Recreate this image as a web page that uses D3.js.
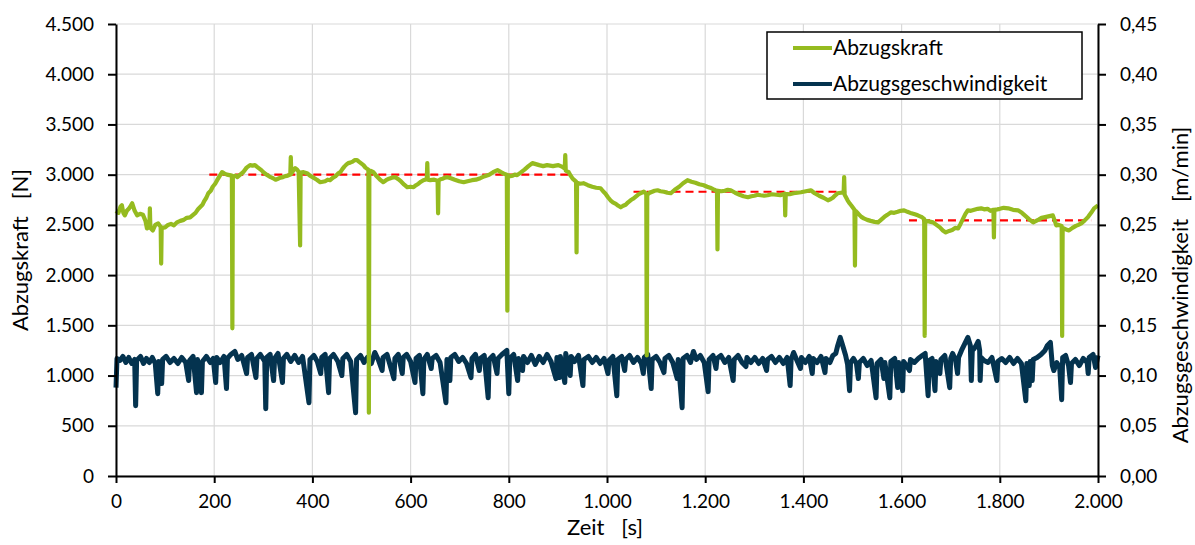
<!DOCTYPE html>
<html>
<head>
<meta charset="utf-8">
<script src="https://cdn.jsdelivr.net/npm/d3@7"></script>
<style>
  body { margin: 0; background: #fff; }
  svg text { font-family: Lato, "Open Sans", sans-serif; fill: #000; white-space: pre; }
</style>
</head>
<body>
<div id="chart"></div>
<script>
// Axis ticks
const timeTicks = [0, 200, 400, 600, 800, 1000, 1200, 1400, 1600, 1800, 2000];
const forceTicks = [0, 500, 1000, 1500, 2000, 2500, 3000, 3500, 4000, 4500];
const speedTicks = [0, 0.05, 0.1, 0.15, 0.2, 0.25, 0.3, 0.35, 0.4, 0.45];

// Series names
const seriesNames = ["Abzugskraft", "Abzugsgeschwindigkeit"];

// Abzugskraft [N] over Zeit [s]
const force = [
  [0,2640],[5,2620],[9,2680],[12,2695],[15,2620],[18,2595],[22,2640],[26,2660],[30,2690],[33,2715],[38,2640],[43,2595],[49,2610],[55,2600],[60,2540],[63,2465],[68,2480],
  [69,2665],[70,2470],[75,2445],[80,2500],[86,2515],[91,2480],[92,2115],[93,2470],[100,2475],[106,2500],[112,2510],[118,2495],
  [124,2525],[131,2540],[138,2550],[144,2570],[151,2575],[157,2600],[162,2620],[167,2655],[171,2675],[176,2700],[180,2740],[184,2770],[188,2815],[193,2840],[197,2880],[202,2910],[206,2945],[211,2985],[216,3025],
  [221,3010],[226,3000],[236,2990],[237,1470],[238,2980],[243,2990],[247,2975],[253,3000],[259,3025],[266,3070],[273,3095],[278,3090],[283,3095],[288,3075],[292,3060],[296,3045],[300,3025],[305,3005],
  [310,2990],[315,2975],[320,2965],[325,2950],[330,2960],[335,2970],[340,2975],[345,2985],[350,2990],[355,3000],[356,3175],[357,3010],[361,3040],[365,3065],[369,3050],[372,3030],
  [375,2295],[376,3020],[382,3025],[389,3015],[395,2990],[402,2970],[409,2950],[416,2925],[421,2930],[426,2935],[431,2950],[436,2945],[442,2970],[447,2985],[452,3010],[457,3025],[461,3055],[465,3080],[469,3100],
  [473,3115],[477,3120],[482,3130],[486,3145],[491,3145],[496,3125],[500,3110],[504,3095],[508,3070],[514,3050],[515,630],[516,3040],[520,3035],[524,3025],[529,2995],[534,2970],[539,2945],
  [544,2925],[550,2945],[556,2960],[562,2970],[569,2975],[575,2955],[581,2930],[587,2900],[593,2875],[600,2880],[606,2875],[611,2895],[616,2910],[621,2930],[626,2945],[633,2955],[634,3115],
  [635,2950],[640,2945],[648,2950],[655,2940],[656,2615],[657,2940],[661,2955],[665,2960],[670,2970],[675,2975],[682,2965],[690,2950],[699,2935],[708,2925],[716,2935],
  [725,2945],[733,2950],[742,2965],[751,2985],[760,3000],[768,3025],[777,3045],[784,3025],[790,3010],[796,3000],[797,1645],[798,2995],[803,2985],[808,2990],[812,3000],[817,2995],
  [824,3020],[832,3050],[840,3085],[848,3115],[855,3105],[862,3095],[870,3085],[878,3095],[884,3090],[890,3085],[895,3090],[901,3095],[908,3080],[914,3060],[915,3195],[916,3040],
  [922,3025],[926,2990],[930,2960],[937,2930],[938,2225],[939,2920],[945,2910],[952,2915],[961,2895],[970,2880],[978,2870],[987,2865],[992,2835],[997,2810],[1002,2775],[1007,2745],
  [1012,2725],[1018,2710],[1023,2690],[1028,2675],[1033,2690],[1038,2700],[1043,2725],[1048,2745],[1053,2760],[1058,2780],[1063,2800],[1068,2815],[1075,2830],[1080,2810],[1081,1200],[1082,2800],
  [1087,2820],[1092,2830],[1097,2840],[1103,2845],[1109,2835],[1116,2830],[1123,2820],[1130,2815],[1138,2850],[1147,2880],[1155,2915],[1164,2945],[1172,2930],[1180,2920],[1188,2905],[1197,2895],[1204,2880],[1210,2870],[1216,2855],[1221,2845],
  [1224,2840],[1225,2255],[1226,2840],[1233,2835],[1240,2840],[1246,2850],[1252,2845],[1261,2820],[1270,2800],[1278,2785],[1287,2775],[1294,2785],[1300,2790],[1307,2800],[1313,2795],[1320,2790],[1327,2795],
  [1336,2805],[1345,2800],[1353,2795],[1362,2810],[1363,2595],[1364,2810],[1372,2805],[1380,2815],[1388,2820],[1395,2825],[1405,2835],[1415,2845],[1423,2815],[1432,2790],[1441,2770],[1450,2745],[1455,2755],[1460,2770],
  [1465,2795],[1470,2815],[1476,2820],[1482,2825],[1483,2975],[1484,2800],[1490,2745],[1494,2715],[1498,2690],[1504,2650],[1505,2095],[1506,2640],[1510,2620],[1514,2600],
  [1518,2580],[1523,2565],[1530,2550],[1537,2540],[1545,2530],[1552,2525],[1558,2550],[1565,2580],[1571,2600],[1578,2625],[1585,2620],[1592,2630],[1598,2640],[1605,2645],[1612,2630],[1620,2615],[1627,2605],[1633,2595],[1640,2580],[1646,2560],
  [1647,1395],[1648,2540],[1655,2535],[1664,2525],[1671,2500],[1678,2475],[1684,2445],[1690,2425],[1697,2440],[1703,2450],[1709,2470],[1715,2465],[1720,2510],[1725,2560],[1730,2610],[1735,2645],
  [1741,2640],[1748,2650],[1755,2660],[1762,2665],[1768,2655],[1775,2660],[1781,2640],[1787,2650],[1788,2375],[1789,2650],[1795,2655],[1800,2660],[1808,2670],[1817,2665],[1827,2650],[1837,2645],[1845,2620],[1852,2590],
  [1860,2555],[1868,2525],[1874,2540],[1880,2555],[1885,2570],[1890,2575],[1899,2585],[1908,2595],[1912,2540],[1915,2495],[1920,2500],[1926,2490],[1927,1395],[1928,2470],[1935,2455],
  [1941,2445],[1948,2470],[1955,2490],[1960,2500],[1966,2515],[1973,2545],[1980,2580],[1986,2620],[1992,2665],[2000,2695]
];

// Abzugsgeschwindigkeit [m/min] over Zeit [s]
const speed = [
  [0,0.088],[2,0.117],[8,0.115],[14,0.119],[20,0.113],[26,0.118],[32,0.112],[38,0.116],[40,0.070],[42,0.115],
  [50,0.119],[56,0.112],[62,0.117],[68,0.113],[74,0.118],[80,0.112],[85,0.082],[87,0.114],[93,0.092],[95,0.116],
  [102,0.119],[110,0.113],[118,0.117],[126,0.112],[134,0.118],[142,0.113],[148,0.095],[150,0.115],[157,0.119],[164,0.083],
  [166,0.116],[174,0.083],[176,0.114],[184,0.119],[192,0.113],[198,0.117],[203,0.093],[205,0.118],[212,0.113],[220,0.119],
  [225,0.087],[227,0.117],[234,0.121],[242,0.124],[248,0.116],[256,0.120],[266,0.102],[268,0.118],[276,0.121],[285,0.098],
  [287,0.117],[294,0.121],[303,0.114],[305,0.067],[307,0.118],[314,0.121],[321,0.095],[323,0.117],[330,0.122],[339,0.093],
  [341,0.117],[348,0.121],[356,0.114],[364,0.120],[372,0.113],[380,0.119],[393,0.073],[395,0.116],[403,0.120],[410,0.114],
  [417,0.102],[419,0.118],[426,0.121],[433,0.083],[435,0.117],[443,0.121],[452,0.114],[460,0.100],[462,0.117],[470,0.121],
  [478,0.114],[488,0.063],[490,0.116],[498,0.120],[505,0.113],[512,0.118],[520,0.112],[527,0.123],[534,0.116],[542,0.105],
  [544,0.118],[552,0.121],[566,0.097],[568,0.117],[575,0.121],[583,0.102],[585,0.118],[592,0.121],[600,0.114],[609,0.093],
  [611,0.117],[618,0.120],[625,0.082],[627,0.116],[634,0.121],[642,0.107],[644,0.117],[652,0.120],[660,0.113],[672,0.073],
  [674,0.116],[680,0.095],[682,0.118],[690,0.121],[698,0.114],[706,0.118],[714,0.112],[723,0.098],[725,0.117],[732,0.121],
  [740,0.105],[742,0.117],[750,0.120],[758,0.078],[760,0.116],[768,0.120],[776,0.102],[778,0.117],[786,0.121],[796,0.125],
  [800,0.082],[802,0.117],[810,0.121],[818,0.095],[820,0.117],[828,0.105],[830,0.119],[838,0.113],[846,0.120],[854,0.111],
  [862,0.119],[870,0.113],[878,0.121],[886,0.114],[896,0.097],[898,0.118],[903,0.098],[905,0.119],[914,0.093],[916,0.122],
  [918,0.117],[925,0.100],[927,0.119],[934,0.114],[942,0.120],[951,0.090],[953,0.116],[962,0.119],[970,0.113],[978,0.118],
  [986,0.112],[994,0.117],[1002,0.102],[1004,0.115],[1012,0.119],[1020,0.080],[1022,0.116],[1030,0.119],[1036,0.105],[1038,0.116],
  [1046,0.120],[1054,0.113],[1062,0.118],[1070,0.112],[1074,0.102],[1076,0.118],[1083,0.121],[1090,0.087],[1092,0.116],[1100,0.119],
  [1108,0.113],[1116,0.103],[1118,0.117],[1126,0.120],[1134,0.113],[1143,0.097],[1145,0.116],[1153,0.068],[1155,0.117],[1163,0.120],
  [1170,0.113],[1176,0.124],[1182,0.116],[1190,0.120],[1198,0.113],[1206,0.084],[1208,0.116],[1216,0.120],[1222,0.107],[1224,0.117],
  [1232,0.120],[1240,0.113],[1248,0.118],[1257,0.095],[1259,0.116],[1267,0.120],[1275,0.113],[1283,0.109],[1285,0.118],[1293,0.113],
  [1301,0.118],[1309,0.112],[1317,0.117],[1325,0.105],[1327,0.116],[1335,0.119],[1343,0.113],[1351,0.118],[1359,0.112],[1367,0.118],
  [1373,0.090],[1375,0.116],[1380,0.123],[1386,0.116],[1394,0.107],[1396,0.118],[1404,0.113],[1412,0.119],[1418,0.102],[1420,0.117],
  [1428,0.113],[1436,0.119],[1444,0.103],[1446,0.117],[1454,0.113],[1460,0.120],[1466,0.122],[1470,0.130],[1475,0.138],[1480,0.130],
  [1486,0.120],[1490,0.111],[1494,0.085],[1496,0.113],[1502,0.117],[1508,0.112],[1512,0.097],[1514,0.113],[1522,0.117],[1530,0.110],
  [1538,0.115],[1548,0.078],[1550,0.112],[1558,0.116],[1564,0.097],[1566,0.113],[1576,0.078],[1578,0.114],[1586,0.117],[1592,0.088],
  [1594,0.113],[1602,0.085],[1604,0.114],[1610,0.110],[1616,0.105],[1618,0.116],[1626,0.113],[1634,0.117],[1642,0.120],[1648,0.122],
  [1654,0.080],[1656,0.115],[1662,0.117],[1668,0.085],[1670,0.114],[1678,0.102],[1680,0.116],[1688,0.120],[1698,0.088],[1700,0.117],
  [1704,0.122],[1710,0.115],[1714,0.102],[1716,0.118],[1722,0.125],[1728,0.131],[1735,0.138],[1740,0.130],[1742,0.095],[1744,0.125],
  [1748,0.127],[1752,0.130],[1756,0.134],[1759,0.125],[1760,0.095],[1762,0.118],[1768,0.115],[1776,0.113],[1784,0.118],[1794,0.095],
  [1796,0.114],[1804,0.117],[1812,0.113],[1820,0.118],[1828,0.112],[1836,0.117],[1844,0.112],[1853,0.075],[1855,0.112],[1860,0.090],
  [1862,0.114],[1866,0.095],[1868,0.116],[1876,0.118],[1884,0.121],[1892,0.125],[1897,0.130],[1903,0.133],[1907,0.110],[1910,0.105],
  [1916,0.113],[1922,0.108],[1926,0.076],[1928,0.118],[1934,0.120],[1940,0.110],[1944,0.093],[1946,0.112],[1954,0.116],[1962,0.110],
  [1970,0.117],[1978,0.113],[1980,0.102],[1982,0.118],[1990,0.121],[1995,0.108],[2000,0.120]
];

// Red dashed mean levels: [start, end, force]
const levels = [
  [190, 925, 3000],
  [1054, 1487, 2830],
  [1615, 1986, 2545]
];

const width = 1195;
const height = 545;
const margin = { top: 24, right: 97, bottom: 69, left: 116 };

const green = "#95bb1f";
const navy = "#04334f";

// German number format
const de = d3.formatLocale({ decimal: ",", thousands: ".", grouping: [3], currency: ["", " €"] });
const fmtForce = de.format(",.0f");
const fmtSpeed = de.format(".2f");

const svg = d3.select("#chart").append("svg")
  .attr("width", width)
  .attr("height", height);

const x = d3.scaleLinear().domain([0, 2000]).range([margin.left, width - margin.right]);
const yF = d3.scaleLinear().domain([0, 4500]).range([height - margin.bottom, margin.top]);
const yV = d3.scaleLinear().domain([0, 0.45]).range([height - margin.bottom, margin.top]);

// Gridlines
svg.append("g")
  .selectAll("line.h")
  .data(forceTicks)
  .join("line")
  .attr("x1", x(0)).attr("x2", x(2000))
  .attr("y1", (d) => yF(d)).attr("y2", (d) => yF(d))
  .attr("stroke", "#d9d9d9").attr("stroke-width", 1.2);

svg.append("g")
  .selectAll("line.v")
  .data(timeTicks)
  .join("line")
  .attr("x1", (d) => x(d)).attr("x2", (d) => x(d))
  .attr("y1", yF(0)).attr("y2", yF(4500))
  .attr("stroke", "#d9d9d9").attr("stroke-width", 1.2);

// Mean levels
svg.append("g")
  .selectAll("line")
  .data(levels)
  .join("line")
  .attr("x1", (d) => x(d[0])).attr("x2", (d) => x(d[1]))
  .attr("y1", (d) => yF(d[2])).attr("y2", (d) => yF(d[2]))
  .attr("stroke", "#ff0000").attr("stroke-width", 2.2)
  .attr("stroke-dasharray", "8,5");

// Speed line (right axis)
svg.append("path")
  .datum(speed)
  .attr("fill", "none")
  .attr("stroke", navy)
  .attr("stroke-width", 5)
  .attr("stroke-linejoin", "round")
  .attr("d", d3.line().x((d) => x(d[0])).y((d) => yV(d[1])));

// Force line (left axis)
svg.append("path")
  .datum(force)
  .attr("fill", "none")
  .attr("stroke", green)
  .attr("stroke-width", 4.2)
  .attr("stroke-linejoin", "round")
  .attr("d", d3.line().x((d) => x(d[0])).y((d) => yF(d[1])));

// Axes
function styleAxis(g) {
  g.select(".domain").attr("stroke", "#000").attr("stroke-width", 2);
  g.selectAll(".tick line").attr("stroke", "#000").attr("stroke-width", 2);
  g.selectAll(".tick text").attr("font-size", 19).attr("fill", "#000");
}

svg.append("g")
  .attr("transform", `translate(0,${yF(0)})`)
  .call(d3.axisBottom(x).tickValues(timeTicks).tickFormat(fmtForce).tickSize(7).tickSizeOuter(0).tickPadding(12))
  .call(styleAxis);

svg.append("g")
  .attr("transform", `translate(${x(0)},0)`)
  .call(d3.axisLeft(yF).tickValues(forceTicks).tickFormat(fmtForce).tickSize(8).tickSizeOuter(0).tickPadding(14))
  .call(styleAxis);

svg.append("g")
  .attr("transform", `translate(${x(2000)},0)`)
  .call(d3.axisRight(yV).tickValues(speedTicks).tickFormat(fmtSpeed).tickSize(8).tickSizeOuter(0).tickPadding(14))
  .call(styleAxis);

// Axis titles
svg.append("text")
  .attr("x", 605)
  .attr("y", 535)
  .attr("text-anchor", "middle")
  .attr("font-size", 22)
  .text("Zeit   [s]");

svg.append("text")
  .attr("transform", "translate(28,250) rotate(-90)")
  .attr("text-anchor", "middle")
  .attr("font-size", 22)
  .text("Abzugskraft   [N]");

svg.append("text")
  .attr("transform", "translate(1188,285) rotate(-90)")
  .attr("text-anchor", "middle")
  .attr("font-size", 22)
  .text("Abzugsgeschwindigkeit   [m/min]");

// Legend
const legend = svg.append("g").attr("transform", "translate(767,32)");
legend.append("rect")
  .attr("width", 315).attr("height", 67)
  .attr("fill", "#fff").attr("stroke", "#000").attr("stroke-width", 1.5);

const legendColors = [green, navy];
seriesNames.forEach((name, i) => {
  const row = legend.append("g").attr("transform", `translate(0,${16 + i * 36})`);
  row.append("line")
    .attr("x1", 26).attr("x2", 65)
    .attr("stroke", legendColors[i]).attr("stroke-width", 4);
  row.append("text")
    .attr("x", 66).attr("dy", "0.35em")
    .attr("font-size", 21)
    .text(name);
});
</script>
</body>
</html>
